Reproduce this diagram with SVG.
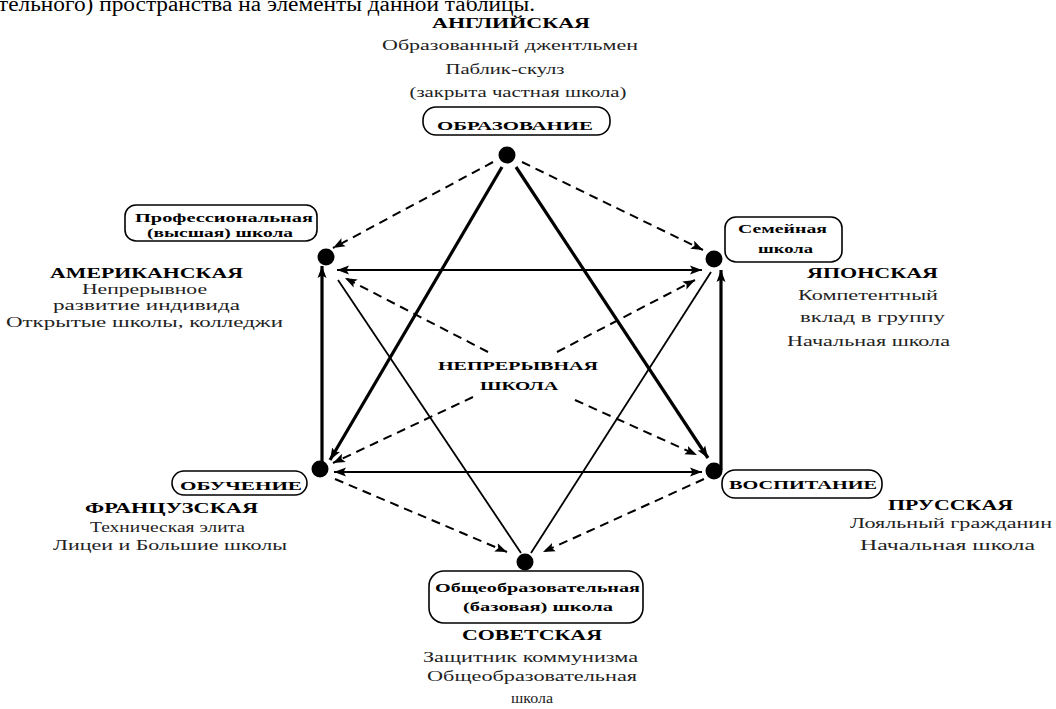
<svg xmlns="http://www.w3.org/2000/svg" width="1056" height="709" viewBox="0 0 1056 709">
<defs>
<marker id="ah" markerUnits="userSpaceOnUse" markerWidth="13" markerHeight="10" refX="12" refY="5" orient="auto-start-reverse">
<path d="M0,0.5 L12,5 L0,9.5 L2.5,5 Z" fill="#000"/>
</marker>
</defs>
<style>
.box{fill:#fff;stroke:#000;stroke-width:1.6}
.dot{fill:#000}
.thick{stroke:#000;stroke-width:3.2;fill:none}
.thin{stroke:#000;stroke-width:1.8;fill:none}
.dash{stroke:#000;stroke-width:2;fill:none;stroke-dasharray:9 6}
</style>
<rect width="1056" height="709" fill="#fff"/>
<text x="-2" y="11" font-family="Liberation Serif, serif" font-size="20" fill="#000" textLength="537" lengthAdjust="spacingAndGlyphs">тельного) пространства на элементы данной таблицы.</text>

<g id="connectors">
<line class="dash" x1="493" y1="162" x2="333" y2="248" marker-end="url(#ah)"/>
<line class="dash" x1="522" y1="162" x2="703" y2="250" marker-end="url(#ah)"/>
<line class="thick" x1="502" y1="167" x2="330" y2="460" marker-end="url(#ah)"/>
<line class="thick" x1="516" y1="167" x2="708" y2="458" marker-end="url(#ah)"/>
<line class="thin" x1="337" y1="270" x2="702" y2="270" marker-start="url(#ah)" marker-end="url(#ah)"/>
<line class="thin" x1="334" y1="472" x2="702" y2="472" marker-start="url(#ah)" marker-end="url(#ah)"/>
<line class="thick" x1="322" y1="463" x2="322" y2="266" marker-end="url(#ah)"/>
<line class="thick" x1="721" y1="470" x2="721" y2="270" marker-end="url(#ah)"/>
<line class="thin" x1="338" y1="280" x2="521" y2="553"/>
<line class="thin" x1="711" y1="272" x2="531" y2="553"/>
<line class="dash" x1="488" y1="352" x2="345" y2="278" marker-end="url(#ah)"/>
<line class="dash" x1="557" y1="352" x2="695" y2="280" marker-end="url(#ah)"/>
<line class="dash" x1="473" y1="397" x2="333" y2="463" marker-end="url(#ah)"/>
<line class="dash" x1="575" y1="400" x2="697" y2="455" marker-end="url(#ah)"/>
<line class="dash" x1="335" y1="479" x2="507" y2="552" marker-end="url(#ah)"/>
<line class="dash" x1="704" y1="479" x2="543" y2="552" marker-end="url(#ah)"/>
</g>

<g id="node-top">
<text x="511" y="28" font-family="Liberation Serif, serif" font-size="15.5" font-weight="bold" fill="#000" text-anchor="middle" textLength="158" lengthAdjust="spacingAndGlyphs">АНГЛИЙСКАЯ</text>
<text x="510" y="50" font-family="Liberation Serif, serif" font-size="15.5" fill="#222" text-anchor="middle" textLength="256" lengthAdjust="spacingAndGlyphs">Образованный джентльмен</text>
<text x="505" y="74" font-family="Liberation Serif, serif" font-size="15.5" fill="#222" text-anchor="middle" textLength="119" lengthAdjust="spacingAndGlyphs">Паблик-скулз</text>
<text x="518" y="97" font-family="Liberation Serif, serif" font-size="15.5" fill="#222" text-anchor="middle" textLength="217" lengthAdjust="spacingAndGlyphs">(закрыта частная школа)</text>
<rect class="box" x="423" y="107" width="187" height="28" rx="13"/>
<text x="515" y="130" font-family="Liberation Serif, serif" font-size="13.5" font-weight="bold" fill="#000" text-anchor="middle" textLength="156" lengthAdjust="spacingAndGlyphs">ОБРАЗОВАНИЕ</text>
<circle class="dot" cx="507" cy="155" r="8.5"/>
</g>

<g id="node-upper-left">
<rect class="box" x="125" y="205" width="192" height="36" rx="11"/>
<text x="224" y="222" font-family="Liberation Serif, serif" font-size="13.5" font-weight="bold" fill="#000" text-anchor="middle" textLength="178" lengthAdjust="spacingAndGlyphs">Профессиональная</text>
<text x="220" y="237" font-family="Liberation Serif, serif" font-size="13.5" font-weight="bold" fill="#000" text-anchor="middle" textLength="146" lengthAdjust="spacingAndGlyphs">(высшая) школа</text>
<text x="146.5" y="278" font-family="Liberation Serif, serif" font-size="15.5" font-weight="bold" fill="#000" text-anchor="middle" textLength="193" lengthAdjust="spacingAndGlyphs">АМЕРИКАНСКАЯ</text>
<text x="144.5" y="294" font-family="Liberation Serif, serif" font-size="15.5" fill="#222" text-anchor="middle" textLength="125" lengthAdjust="spacingAndGlyphs">Непрерывное</text>
<text x="146.5" y="310" font-family="Liberation Serif, serif" font-size="15.5" fill="#222" text-anchor="middle" textLength="187" lengthAdjust="spacingAndGlyphs">развитие индивида</text>
<text x="144.5" y="327" font-family="Liberation Serif, serif" font-size="15.5" fill="#222" text-anchor="middle" textLength="277" lengthAdjust="spacingAndGlyphs">Открытые школы, колледжи</text>
<circle class="dot" cx="326" cy="257" r="8.5"/>
</g>

<g id="node-upper-right">
<rect class="box" x="725" y="217" width="117" height="45" rx="11"/>
<text x="782.5" y="233" font-family="Liberation Serif, serif" font-size="13.5" font-weight="bold" fill="#000" text-anchor="middle" textLength="89" lengthAdjust="spacingAndGlyphs">Семейная</text>
<text x="785.5" y="253" font-family="Liberation Serif, serif" font-size="13.5" font-weight="bold" fill="#000" text-anchor="middle" textLength="55" lengthAdjust="spacingAndGlyphs">школа</text>
<text x="872.5" y="278" font-family="Liberation Serif, serif" font-size="15.5" font-weight="bold" fill="#000" text-anchor="middle" textLength="131" lengthAdjust="spacingAndGlyphs">ЯПОНСКАЯ</text>
<text x="868" y="300" font-family="Liberation Serif, serif" font-size="15.5" fill="#222" text-anchor="middle" textLength="140" lengthAdjust="spacingAndGlyphs">Компетентный</text>
<text x="872.5" y="322" font-family="Liberation Serif, serif" font-size="15.5" fill="#222" text-anchor="middle" textLength="145" lengthAdjust="spacingAndGlyphs">вклад в  группу</text>
<text x="868.5" y="346" font-family="Liberation Serif, serif" font-size="15.5" fill="#222" text-anchor="middle" textLength="163" lengthAdjust="spacingAndGlyphs">Начальная школа</text>
<circle class="dot" cx="714" cy="259" r="8.5"/>
</g>

<g id="node-center">
<text x="518" y="370" font-family="Liberation Serif, serif" font-size="13.5" font-weight="bold" fill="#000" text-anchor="middle" textLength="160" lengthAdjust="spacingAndGlyphs">НЕПРЕРЫВНАЯ</text>
<text x="519" y="390" font-family="Liberation Serif, serif" font-size="13.5" font-weight="bold" fill="#000" text-anchor="middle" textLength="78" lengthAdjust="spacingAndGlyphs">ШКОЛА</text>
</g>

<g id="node-lower-left">
<rect class="box" x="172" y="471" width="135" height="24" rx="12"/>
<text x="241" y="490" font-family="Liberation Serif, serif" font-size="13.5" font-weight="bold" fill="#000" text-anchor="middle" textLength="122" lengthAdjust="spacingAndGlyphs">ОБУЧЕНИЕ</text>
<text x="171.5" y="513" font-family="Liberation Serif, serif" font-size="15.5" font-weight="bold" fill="#000" text-anchor="middle" textLength="173" lengthAdjust="spacingAndGlyphs">ФРАНЦУЗСКАЯ</text>
<text x="167.5" y="532" font-family="Liberation Serif, serif" font-size="15.5" fill="#222" text-anchor="middle" textLength="155" lengthAdjust="spacingAndGlyphs">Техническая элита</text>
<text x="170" y="550" font-family="Liberation Serif, serif" font-size="15.5" fill="#222" text-anchor="middle" textLength="234" lengthAdjust="spacingAndGlyphs">Лицеи и Большие школы</text>
<circle class="dot" cx="320" cy="469" r="8.5"/>
</g>

<g id="node-lower-right">
<rect class="box" x="722" y="470" width="160" height="28" rx="13"/>
<text x="803" y="489" font-family="Liberation Serif, serif" font-size="13.5" font-weight="bold" fill="#000" text-anchor="middle" textLength="148" lengthAdjust="spacingAndGlyphs">ВОСПИТАНИЕ</text>
<text x="950.5" y="510" font-family="Liberation Serif, serif" font-size="15.5" font-weight="bold" fill="#000" text-anchor="middle" textLength="125" lengthAdjust="spacingAndGlyphs">ПРУССКАЯ</text>
<text x="951" y="528" font-family="Liberation Serif, serif" font-size="15.5" fill="#222" text-anchor="middle" textLength="202" lengthAdjust="spacingAndGlyphs">Лояльный гражданин</text>
<text x="947.5" y="550" font-family="Liberation Serif, serif" font-size="15.5" fill="#222" text-anchor="middle" textLength="175" lengthAdjust="spacingAndGlyphs">Начальная школа</text>
<circle class="dot" cx="714" cy="471" r="8.5"/>
</g>

<g id="node-bottom">
<rect class="box" x="429" y="571" width="214" height="52" rx="15"/>
<text x="537.5" y="592" font-family="Liberation Serif, serif" font-size="13.5" font-weight="bold" fill="#000" text-anchor="middle" textLength="205" lengthAdjust="spacingAndGlyphs">Общеобразовательная</text>
<text x="538" y="611" font-family="Liberation Serif, serif" font-size="13.5" font-weight="bold" fill="#000" text-anchor="middle" textLength="150" lengthAdjust="spacingAndGlyphs">(базовая) школа</text>
<text x="532" y="640" font-family="Liberation Serif, serif" font-size="15.5" font-weight="bold" fill="#000" text-anchor="middle" textLength="140" lengthAdjust="spacingAndGlyphs">СОВЕТСКАЯ</text>
<text x="530.5" y="662" font-family="Liberation Serif, serif" font-size="15.5" fill="#222" text-anchor="middle" textLength="215" lengthAdjust="spacingAndGlyphs">Защитник коммунизма</text>
<text x="532" y="681" font-family="Liberation Serif, serif" font-size="15.5" fill="#222" text-anchor="middle" textLength="210" lengthAdjust="spacingAndGlyphs">Общеобразовательная</text>
<text x="532" y="703" font-family="Liberation Serif, serif" font-size="15.5" fill="#222" text-anchor="middle" textLength="42" lengthAdjust="spacingAndGlyphs">школа</text>
<circle class="dot" cx="525" cy="562" r="8.5"/>
</g>
</svg>
